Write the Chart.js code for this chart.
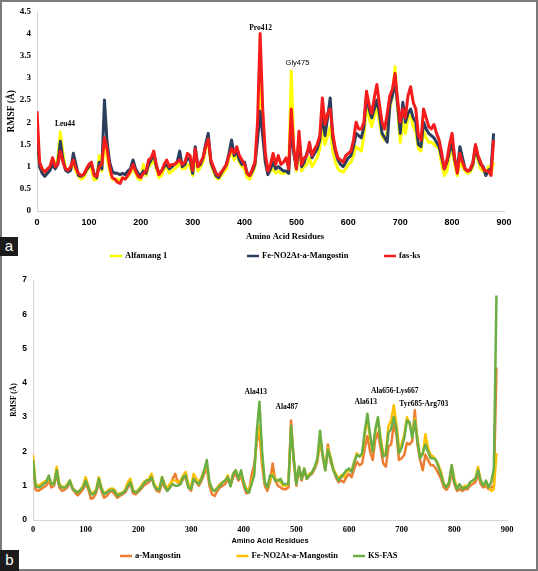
<!DOCTYPE html>
<html>
<head>
<meta charset="utf-8">
<title>RMSF comparison</title>
<script src="https://cdn.jsdelivr.net/npm/chart.js@4.4.1/dist/chart.umd.min.js"></script>
<style>
    html, body { margin: 0; padding: 0; background: #fff; }
    #page { position: relative; width: 538px; height: 571px; overflow: hidden; background: #fff; }
    #page canvas { position: absolute; left: 0; }
    #chartA { top: 0; }
    #chartB { top: 268px; }
    .frame { position: absolute; left: 0; top: 0; right: 0; bottom: 0; border: 2px solid #7a7a7a; pointer-events: none; }
    .tag { position: absolute; left: 0; background: #1c1c1c; color: #fff; font: 15px 'Liberation Sans', Arial, sans-serif; text-align: center; }
    #tagA { top: 237px; width: 18px; height: 19px; line-height: 17px; }
    #tagB { top: 550px; width: 19px; height: 21px; line-height: 19px; }
</style>
</head>
<body>
<div id="page">
    <canvas id="chartA" width="538" height="268"></canvas>
    <canvas id="chartB" width="538" height="303"></canvas>
    <div class="frame"></div>
    <div class="tag" id="tagA">a</div>
    <div class="tag" id="tagB">b</div>
</div>
<script>
// ========================================
// DATA
// ========================================
const residues = [
    0, 5, 10, 15, 20, 25, 30, 35, 40, 45,
    50, 55, 60, 65, 70, 75, 80, 85, 90, 95,
    100, 105, 110, 115, 120, 125, 130, 135, 140, 145,
    150, 155, 160, 165, 170, 175, 180, 185, 190, 195,
    200, 205, 210, 215, 220, 225, 230, 235, 240, 245,
    250, 255, 260, 265, 270, 275, 280, 285, 290, 295,
    300, 305, 310, 315, 320, 325, 330, 335, 340, 345,
    350, 355, 360, 365, 370, 375, 380, 385, 390, 395,
    400, 405, 410, 415, 420, 425, 430, 435, 440, 445,
    450, 455, 460, 465, 470, 475, 480, 485, 490, 495,
    500, 505, 510, 515, 520, 525, 530, 535, 540, 545,
    550, 555, 560, 565, 570, 575, 580, 585, 590, 595,
    600, 605, 610, 615, 620, 625, 630, 635, 640, 645,
    650, 655, 660, 665, 670, 675, 680, 685, 690, 695,
    700, 705, 710, 715, 720, 725, 730, 735, 740, 745,
    750, 755, 760, 765, 770, 775, 780, 785, 790, 795,
    800, 805, 810, 815, 820, 825, 830, 835, 840, 845,
    850, 855, 860, 865, 870, 875, 880
];

// panel a
const alfamang1 = [
    1.6, 1.05, 0.95, 0.88, 0.92, 0.98, 1.1, 1.0, 1.2, 1.78,
    1.3, 0.95, 0.9, 0.95, 1.05, 0.9, 0.78, 0.72, 0.75, 0.88,
    0.98, 0.95, 0.7, 0.72, 1.25, 0.9, 1.6, 1.2, 0.9, 0.72,
    0.7, 0.72, 0.7, 0.75, 0.72, 0.78, 0.85, 1.0, 0.85, 0.72,
    0.7, 1.05, 0.8, 1.0, 1.05, 1.2, 0.95, 0.75, 0.8, 0.95,
    1.0, 0.85, 0.9, 0.95, 1.0, 1.1, 0.95, 0.95, 1.05, 1.0,
    0.8, 1.25, 0.9, 1.0, 1.1, 1.4, 1.6, 1.05, 0.9, 0.75,
    0.72, 0.8, 0.88, 0.95, 1.2, 1.35, 1.15, 1.3, 1.1, 1.0,
    0.95, 0.75, 0.72, 0.85, 1.0, 1.8, 2.9, 1.8, 1.15, 0.85,
    0.9, 0.95, 0.85, 0.9, 0.85, 0.85, 0.88, 0.85, 3.15, 1.35,
    0.9, 1.5, 0.9, 1.0, 1.05, 1.2, 1.0, 1.1, 1.2, 1.4,
    1.85, 1.5, 1.7, 1.9, 1.35, 1.1, 0.95, 0.9, 0.88, 0.95,
    1.05, 1.1, 1.25, 1.45, 1.4, 1.35, 1.7, 2.4, 2.1, 1.9,
    2.15, 2.35, 2.0, 1.7, 1.6, 1.8, 2.3, 2.6, 3.25, 2.3,
    1.55, 2.0, 1.75, 2.1, 2.15, 1.9, 1.8, 1.4, 1.35, 1.8,
    1.65, 1.55, 1.55, 1.5, 1.45, 1.4, 1.05, 0.8, 0.9, 1.25,
    1.4, 1.05, 0.8, 1.1, 1.0, 0.9, 0.85, 0.88, 1.0, 1.4,
    1.15, 0.95, 0.9, 0.85, 1.0, 0.85, 1.1
];
const feNo2AtA = [
    1.75, 1.0, 0.85, 0.78, 0.85, 0.92, 1.05, 0.95, 1.05, 1.57,
    1.15, 0.92, 0.88, 0.92, 1.3, 1.05, 0.8, 0.78, 0.82, 0.92,
    1.0, 1.05, 0.85, 0.75, 1.1, 0.95, 2.5, 1.55, 1.1, 0.9,
    0.85, 0.85, 0.82, 0.85, 0.82, 0.9, 0.95, 1.15, 0.95, 0.85,
    0.8, 0.9, 0.85, 1.05, 1.15, 1.3, 1.0, 0.85, 0.9, 1.0,
    1.05, 0.95, 1.0, 1.05, 1.1, 1.35, 1.0, 1.05, 1.2, 1.15,
    0.85, 1.45, 1.0, 1.05, 1.2, 1.5, 1.75, 1.1, 0.95, 0.8,
    0.75, 0.85, 0.95, 1.05, 1.3, 1.6, 1.25, 1.35, 1.15, 1.05,
    1.1, 0.85, 0.8, 0.9, 1.05, 1.6, 2.25, 1.7, 1.1, 0.82,
    0.95, 1.1, 0.95, 1.0, 0.95, 0.9, 0.9, 0.85, 1.9, 1.3,
    0.95, 1.65, 1.0, 1.1, 1.3, 1.45, 1.2, 1.3, 1.4, 1.6,
    2.2, 1.7, 2.1, 2.55, 1.65, 1.35, 1.15, 1.05, 1.0, 1.1,
    1.2, 1.25, 1.45, 1.75, 1.7, 1.65, 1.9, 2.6, 2.3, 2.1,
    2.3, 2.5, 2.2, 1.75, 1.65, 1.55, 2.4, 2.6, 2.95, 2.4,
    1.75, 2.45, 2.0, 2.2, 2.3, 2.1, 2.0, 1.5, 1.45, 2.0,
    1.85, 1.75, 1.7, 1.65, 1.55, 1.45, 1.2, 0.95, 1.1, 1.35,
    1.5, 1.15, 0.9, 1.45, 1.2, 0.95, 0.9, 0.92, 1.05, 1.45,
    1.2, 1.05, 1.0, 0.8, 0.92, 0.95, 1.75
];
const fasKs = [
    2.25, 1.1, 0.95, 0.88, 0.95, 1.0, 1.2, 1.0, 1.05, 1.35,
    1.1, 0.95, 0.92, 1.0, 1.15, 0.95, 0.85, 0.8, 0.82, 0.95,
    1.05, 1.1, 0.8, 0.78, 1.0, 1.05, 1.65, 1.4, 1.0, 0.75,
    0.72, 0.65, 0.62, 0.75, 0.72, 0.8, 0.9, 1.05, 0.9, 0.78,
    0.75, 0.85, 0.9, 1.15, 1.2, 1.35, 1.05, 0.82, 0.9, 1.05,
    1.15, 1.0, 1.05, 1.05, 1.1, 1.15, 1.05, 1.1, 1.3, 1.25,
    0.92, 1.4, 1.0, 1.1, 1.2, 1.45, 1.62, 1.15, 1.0, 0.85,
    0.8, 0.88, 0.95, 1.05, 1.25, 1.4, 1.3, 1.45, 1.25, 1.15,
    1.05, 0.85, 0.8, 0.95, 1.1, 2.0, 4.0, 2.3, 1.3, 0.9,
    1.05, 1.3, 1.05, 1.25, 1.05, 1.1, 1.2, 0.95, 2.3, 1.4,
    0.95, 1.8, 1.05, 1.2, 1.25, 1.55, 1.25, 1.4, 1.5, 1.7,
    2.55, 1.95, 2.2, 2.3, 1.75, 1.4, 1.2, 1.15, 1.1, 1.25,
    1.3, 1.35, 1.6, 2.0, 1.85, 1.85, 2.0, 2.7, 2.4, 2.2,
    2.55, 2.85, 2.4, 2.0, 1.85, 2.2, 2.6, 2.75, 3.1, 2.5,
    2.0, 2.3, 2.1, 2.6, 2.8, 2.45, 2.3, 1.7, 1.6, 2.3,
    2.1, 1.9, 1.85, 1.95, 1.75, 1.6, 1.3, 0.95, 1.15, 1.5,
    1.75, 1.2, 0.85, 1.3, 1.1, 0.95, 0.9, 0.95, 1.1, 1.5,
    1.25, 1.1, 0.95, 0.9, 0.9, 0.8, 1.6
];

// panel b
const aMangostin = [
    1.6, 0.88, 0.85, 0.9, 0.95, 1.0, 1.15, 0.95, 1.0, 1.35,
    0.95, 0.85, 0.88, 0.95, 1.1, 0.9, 0.8, 0.72, 0.8, 0.9,
    1.05, 0.9, 0.62, 0.65, 0.8, 1.1, 0.85, 0.65, 0.7, 0.8,
    0.85, 0.75, 0.65, 0.7, 0.75, 0.8, 0.95, 1.05, 0.78, 0.75,
    0.82, 0.9, 1.0, 1.05, 1.1, 1.25, 1.0, 0.85, 0.82, 1.1,
    0.95, 0.85, 0.95, 1.2, 1.35, 1.1, 1.05, 1.2, 1.25, 0.95,
    0.85, 1.2, 1.1, 1.0, 1.15, 1.35, 1.55, 1.0, 0.75, 0.7,
    0.85, 0.95, 1.0, 1.05, 1.2, 1.0, 1.25, 1.35, 1.15, 1.3,
    1.0, 0.78, 0.8, 1.3, 1.6, 2.3, 2.5, 1.6, 1.0, 0.85,
    1.1, 1.65, 1.15, 1.0, 0.95, 0.9, 0.9, 0.95, 2.9, 1.7,
    1.0, 1.5, 1.15, 1.45, 1.2, 1.3, 1.35, 1.5, 1.7, 2.3,
    1.85, 1.45, 2.2, 1.7, 1.5, 1.25, 1.1, 1.15, 1.1, 1.25,
    1.35, 1.25, 1.5, 1.7, 1.6, 1.65, 2.1, 2.45, 2.0, 1.75,
    2.35, 2.55, 2.1, 1.65, 1.55, 2.15, 2.2, 2.8, 2.5, 1.75,
    1.8, 1.9, 2.25, 2.2, 2.3, 3.2, 2.2, 1.75, 1.45, 1.9,
    1.75, 1.6, 1.6, 1.5, 1.35, 1.2, 0.95, 0.88, 1.0, 1.4,
    1.05, 0.85, 0.9, 0.85, 0.9, 0.9, 1.0, 1.05, 1.1, 1.35,
    1.05, 0.95, 1.0, 0.9, 0.95, 1.0, 4.45
];
const feNo2AtB = [
    1.9, 1.05, 1.0, 1.05, 1.1, 1.15, 1.2, 1.05, 1.1, 1.55,
    1.05, 0.98, 0.95, 1.05, 1.15, 0.95, 0.85, 0.82, 0.88, 1.0,
    1.25, 1.0, 0.78, 0.8, 0.9, 1.25, 0.95, 0.78, 0.82, 0.9,
    0.92, 0.88, 0.75, 0.78, 0.8, 0.88, 1.1, 1.2, 0.88, 0.8,
    0.88, 0.98, 1.1, 1.15, 1.2, 1.35, 1.05, 0.95, 0.92, 1.25,
    1.05, 0.92, 1.05, 1.15, 1.15, 1.1, 1.15, 1.3, 1.4, 1.05,
    0.95, 1.35, 1.2, 1.1, 1.25, 1.45, 1.6, 1.1, 0.9, 0.85,
    0.95, 1.05, 1.1, 1.15, 1.3, 1.05, 1.35, 1.45, 1.25, 1.35,
    1.1, 0.9, 0.9, 1.1, 1.4, 2.4, 2.75, 1.8, 1.1, 0.95,
    1.15, 1.35, 1.2, 1.15, 1.1, 1.0, 1.0, 1.05, 2.7, 1.8,
    1.1, 1.55, 1.2, 1.5, 1.25, 1.35, 1.4, 1.55, 1.75, 2.4,
    1.9, 1.5, 2.1, 1.85, 1.5, 1.35, 1.2, 1.3, 1.25, 1.4,
    1.45, 1.45, 1.7, 1.95, 1.85, 1.9, 2.5, 2.95, 2.4, 2.0,
    2.6, 2.95, 2.4, 1.95, 1.95, 2.75, 2.9, 3.35, 2.8, 2.1,
    2.2, 2.5, 3.0, 2.8, 2.5, 2.95, 2.4, 1.85, 1.9, 2.5,
    2.1, 1.9, 1.85, 1.75, 1.6, 1.4, 1.05, 0.95, 1.1, 1.6,
    1.2, 0.95, 1.0, 0.95, 1.0, 0.98, 1.1, 1.15, 1.2, 1.55,
    1.15, 1.0, 1.1, 0.95, 0.85, 0.9, 1.95
];
const ksFas = [
    1.75, 0.98, 0.95, 0.98, 1.05, 1.1, 1.3, 1.05, 1.05, 1.45,
    1.0, 0.95, 0.95, 1.0, 1.15, 0.92, 0.85, 0.8, 0.88, 0.95,
    1.15, 0.95, 0.75, 0.75, 0.85, 1.2, 0.9, 0.75, 0.8, 0.85,
    0.88, 0.85, 0.7, 0.75, 0.78, 0.85, 1.0, 1.1, 0.85, 0.8,
    0.85, 0.95, 1.05, 1.15, 1.15, 1.25, 1.0, 0.9, 0.88, 1.25,
    1.0, 0.85, 0.95, 1.05, 1.0, 1.0, 1.05, 1.25, 1.3, 0.95,
    0.9, 1.2, 1.1, 1.05, 1.2, 1.45, 1.75, 1.1, 0.9, 0.85,
    0.92, 1.0, 1.1, 1.15, 1.25, 0.98, 1.35, 1.45, 1.2, 1.45,
    1.1, 0.85, 0.8, 1.05, 1.3, 2.6, 3.45, 2.0, 1.1, 0.95,
    1.3, 1.3, 1.15, 1.15, 1.2, 1.05, 1.05, 1.05, 2.75, 1.8,
    1.05, 1.55, 1.2, 1.5, 1.2, 1.3, 1.4, 1.55, 1.8, 2.6,
    1.9, 1.45, 2.05, 1.8, 1.45, 1.3, 1.15, 1.25, 1.35, 1.45,
    1.5, 1.4, 1.7, 1.9, 1.85, 1.95, 2.6, 3.1, 2.5, 2.0,
    2.65, 3.0, 2.3, 1.85, 1.9, 2.55, 2.65, 3.0, 2.65, 1.95,
    2.1, 2.4, 2.9, 2.85, 2.4, 2.9, 2.3, 1.8, 1.95, 2.2,
    2.0, 1.8, 1.8, 1.75, 1.55, 1.3, 1.05, 0.95, 1.1, 1.6,
    1.1, 0.9, 1.05, 0.9, 0.95, 0.95, 1.1, 1.15, 1.2, 1.45,
    1.15, 1.0, 1.15, 0.95, 1.1, 1.5, 6.55
];

// peak labels (text, residue, RMSF where the text sits)
const peakTextA = ['Leu44', 'Pro412', 'Gly475'];
const peakResA = [54, 431, 502];
const peakRmsfA = [1.96, 4.13, 3.33];

const peakTextB = ['Ala413', 'Ala487', 'Ala613', 'Ala656-Lys667', 'Tyr685-Arg703'];
const peakResB = [423, 482, 632, 687, 742];
const peakRmsfB = [3.73, 3.29, 3.44, 3.76, 3.38];

// ========================================
// EXTRAS PLUGIN (peak labels, x title, legend)
// ========================================
const rmsfExtras = {
    id: 'rmsfExtras',
    afterDatasetsDraw(chart, args, opts) {
        const ctx = chart.ctx;
        const xs = chart.scales.x;
        const ys = chart.scales.y;
        ctx.save();
        ctx.fillStyle = '#000';
        ctx.textBaseline = 'middle';

        // peak labels
        ctx.textAlign = 'center';
        opts.peaks.text.forEach((t, i) => {
            ctx.font = opts.sansPeaks.includes(t) ? opts.peakSansFont : opts.peakFont;
            ctx.fillText(t, xs.getPixelForValue(opts.peaks.res[i]), ys.getPixelForValue(opts.peaks.rmsf[i]));
        });

        // x axis title
        ctx.font = opts.titleFont;
        ctx.fillText('Amino Acid Residues', opts.titleX, opts.titleY);

        // legend
        ctx.textAlign = 'left';
        ctx.font = opts.legendFont;
        chart.data.datasets.forEach((ds, i) => {
            const x0 = opts.legendX + i * opts.legendStep;
            ctx.strokeStyle = ds.borderColor;
            ctx.lineWidth = 2.5;
            ctx.beginPath();
            ctx.moveTo(x0, opts.legendY);
            ctx.lineTo(x0 + 12, opts.legendY);
            ctx.stroke();
            ctx.fillText(ds.label, x0 + 15, opts.legendY);
        });
        ctx.restore();
    }
};

// ========================================
// CHART BUILDER
// ========================================
function makeRmsfChart(canvasId, cfg) {
    const ctx = document.getElementById(canvasId).getContext('2d');
    const n = cfg.series.length;

    return new Chart(ctx, {
        type: 'line',
        data: {
            datasets: cfg.series.map((s, i) => ({
                label: s.label,
                data: residues.map((r, k) => ({ x: r, y: s.values[k] })),
                borderColor: s.color,
                backgroundColor: s.color,
                borderWidth: cfg.lineWidth,
                borderJoinStyle: 'round',
                pointRadius: 0,
                fill: false,
                tension: 0,
                order: n - i
            }))
        },
        options: {
            responsive: false,
            animation: false,
            devicePixelRatio: 1,
            layout: { padding: cfg.padding },
            plugins: {
                legend: { display: false },
                tooltip: { enabled: false },
                rmsfExtras: cfg.extras
            },
            scales: {
                x: {
                    type: 'linear',
                    min: 0,
                    max: 900,
                    afterFit: s => { s.height = 20; },
                    grid: { display: false, drawTicks: false },
                    border: { color: '#d4d4d4', width: 1 },
                    ticks: {
                        stepSize: 100,
                        padding: cfg.xTickPad,
                        color: '#000',
                        maxRotation: 0,
                        autoSkip: false,
                        font: cfg.xTickFont
                    }
                },
                y: {
                    min: 0,
                    max: cfg.yMax,
                    afterFit: s => { s.width = cfg.yWidth; },
                    grid: { display: false, drawTicks: false },
                    border: { color: '#d4d4d4', width: 1 },
                    ticks: {
                        stepSize: cfg.yStep,
                        padding: 6,
                        color: '#000',
                        font: cfg.yTickFont,
                        callback: v => String(v)
                    },
                    title: {
                        display: true,
                        text: 'RMSF (Å)',
                        color: '#000',
                        font: cfg.yTitleFont,
                        padding: { top: cfg.yTitlePad, bottom: 0 }
                    }
                }
            }
        },
        plugins: [rmsfExtras]
    });
}

document.addEventListener('DOMContentLoaded', function () {
    const serif = "'Liberation Serif', 'Times New Roman', serif";
    const sans = "'Liberation Sans', Arial, sans-serif";

    makeRmsfChart('chartA', {
        series: [
            { label: 'Alfamang 1', values: alfamang1, color: '#ffff00' },
            { label: 'Fe-NO2At-a-Mangostin', values: feNo2AtA, color: '#2c3e5e' },
            { label: 'fas-ks', values: fasKs, color: '#f51c1c' }
        ],
        lineWidth: 3,
        padding: { top: 11, right: 34, bottom: 37, left: 0 },
        yMax: 4.5,
        yStep: 0.5,
        yWidth: 37,
        xTickPad: 6,
        xTickFont: { family: sans, size: 9, weight: 'bold' },
        yTickFont: { family: serif, size: 9, weight: 'bold' },
        yTitleFont: { family: serif, size: 9.5, weight: 'bold' },
        yTitlePad: 6,
        extras: {
            peaks: { text: peakTextA, res: peakResA, rmsf: peakRmsfA },
            sansPeaks: ['Gly475'],
            peakFont: 'bold 7.5px ' + serif,
            peakSansFont: '7.5px ' + sans,
            titleFont: 'bold 8.5px ' + serif,
            titleX: 285,
            titleY: 237,
            legendFont: 'bold 8.5px ' + serif,
            legendX: 110,
            legendStep: 137,
            legendY: 256
        }
    });

    makeRmsfChart('chartB', {
        series: [
            { label: 'a-Mangostin', values: aMangostin, color: '#ed7d31' },
            { label: 'Fe-NO2At-a-Mangostin', values: feNo2AtB, color: '#ffc000' },
            { label: 'KS-FAS', values: ksFas, color: '#6aae45' }
        ],
        lineWidth: 2.5,
        padding: { top: 12, right: 31, bottom: 31, left: 0 },
        yMax: 7,
        yStep: 1,
        yWidth: 33,
        xTickPad: 5,
        xTickFont: { family: serif, size: 8.5, weight: 'bold' },
        yTickFont: { family: sans, size: 8.5, weight: 'bold' },
        yTitleFont: { family: serif, size: 7.5, weight: 'bold' },
        yTitlePad: 10,
        extras: {
            peaks: { text: peakTextB, res: peakResB, rmsf: peakRmsfB },
            sansPeaks: [],
            peakFont: 'bold 7.5px ' + serif,
            peakSansFont: '7.5px ' + sans,
            titleFont: 'bold 7.5px ' + sans,
            titleX: 270,
            titleY: 273,
            legendFont: 'bold 8.5px ' + serif,
            legendX: 120,
            legendStep: 116.5,
            legendY: 288
        }
    });
});
</script>
</body>
</html>
